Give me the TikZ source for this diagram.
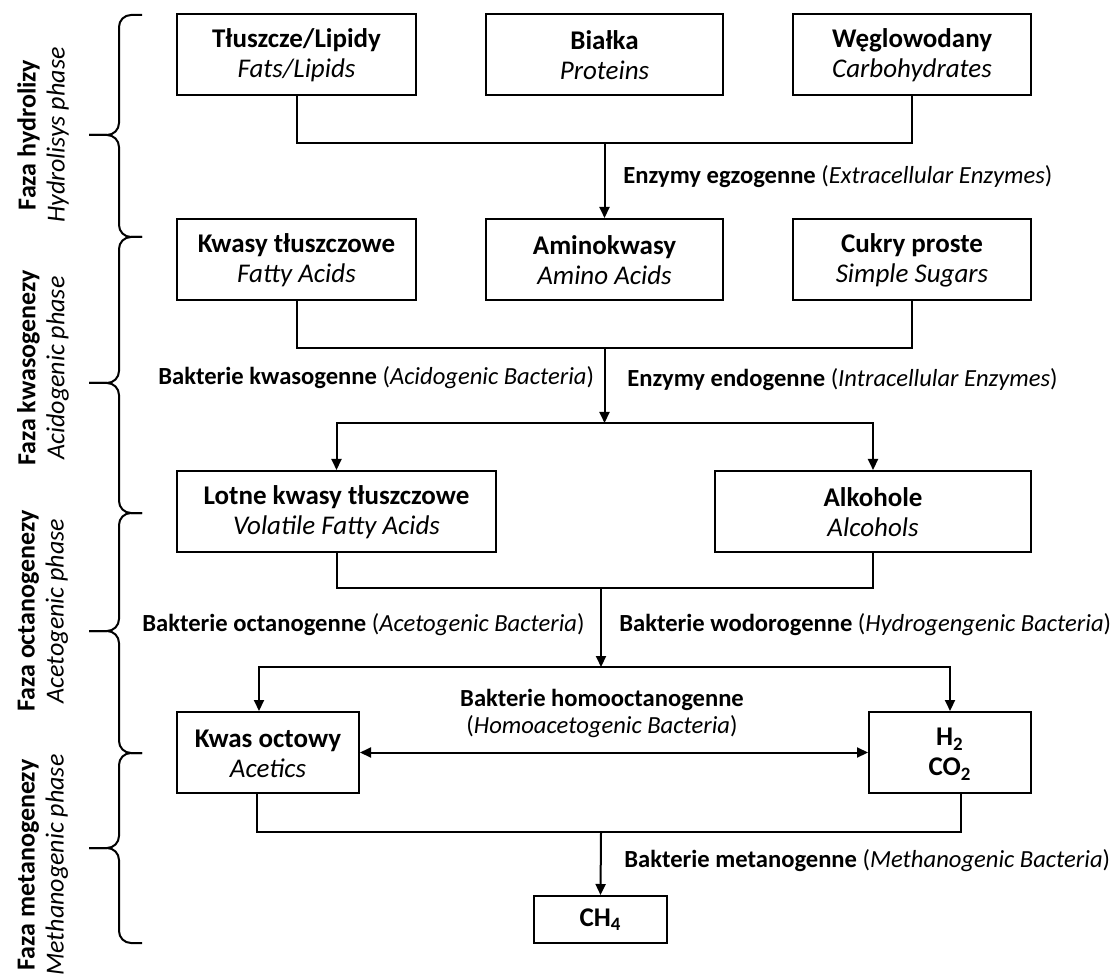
\documentclass[tikz,border=0pt]{standalone}
\usepackage{fontspec}
\setmainfont{Carlito}
\usetikzlibrary{arrows.meta, positioning}

\begin{document}
\begin{tikzpicture}[
    x=0.5pt, y=-0.5pt,
    box/.style={draw, line width=1pt, minimum width=#1*0.5pt, minimum height=40.5pt, align=center, inner sep=1pt, font=\fontsize{13.5}{15}\selectfont},
    lbl/.style={anchor=west, inner sep=0pt, font=\fontsize{12.3}{13.5}\selectfont},
    phase/.style={rotate=90, align=center, inner sep=0pt, font=\fontsize{13}{14.5}\selectfont},
    link/.style={line width=1pt},
    arrow/.style={link, -{Triangle[length=5.5pt, width=5pt]}},
    dblarrow/.style={link, {Triangle[length=5.5pt, width=5pt]}-{Triangle[length=5.5pt, width=5pt]}},
    brc/.style={line width=1pt, rounded corners=6pt}
]
\useasboundingbox (0,0) rectangle (1111,977);

% Substrates
\node[box=239] (fat) at (296.5,54.5) {\textbf{Tłuszcze/Lipidy\strut}\\\textit{Fats/Lipids}};
\node[box=237] (prot) at (604.5,54.5) {\textbf{Białka\strut}\\\textit{Proteins}};
\node[box=238] (carb) at (912,54.5) {\textbf{Węglowodany\strut}\\\textit{Carbohydrates}};

% Monomers
\node[box=239] (fatty) at (296.5,259.5) {\textbf{Kwasy tłuszczowe\strut}\\\textit{Fatty Acids}};
\node[box=237] (amino) at (604.5,259.5) {\textbf{Aminokwasy\strut}\\\textit{Amino Acids}};
\node[box=238] (sugar) at (912,259.5) {\textbf{Cukry proste\strut}\\\textit{Simple Sugars}};

% Intermediates
\node[box=319] (vfa) at (336.5,511.5) {\textbf{Lotne kwasy tłuszczowe\strut}\\\textit{Volatile Fatty Acids}};
\node[box=316] (alc) at (873,511.5) {\textbf{Alkohole\strut}\\\textit{Alcohols}};

\node[box=182] (acet) at (268,752.5) {\textbf{Kwas octowy\strut}\\\textit{Acetics}};
\node[box=162] (gas) at (950,752.5) {\textbf{H\textsubscript{2}\strut}\\\textbf{CO\textsubscript{2}}};
\node[box=133, minimum height=23.5pt] (ch4) at (600.5,919.5) {\textbf{CH\textsubscript{4}}};

% Junctions
\coordinate (j1) at (604.5,143);
\coordinate (j2) at (604.5,348);
\coordinate (j3) at (604.5,423);
\coordinate (j4) at (601,588);
\coordinate (j5) at (601,667);
\coordinate (j6) at (601,832);

\draw[link] (fat.south) |- (j1) -| (carb.south);
\draw[arrow] (j1) -- (amino.north);
\draw[link] (fatty.south) |- (j2) -| (sugar.south);
\draw[arrow] (j2) -- (j3);
\draw[arrow] (j3) -| (vfa.north);
\draw[arrow] (j3) -| (alc.north);
\draw[link] (vfa.south) |- (j4) -| (alc.south);
\draw[arrow] (j4) -- (j5);
\draw[arrow] (j5) -| ([xshift=-4.5pt]acet.north);
\draw[arrow] (j5) -| (gas.north);
\draw[dblarrow] (acet) -- (gas);
\draw[link] ([xshift=-5.5pt]acet.south) |- (j6) -| ([xshift=5.5pt]gas.south);
\draw[arrow] (j6) -- (ch4.north);

% Process labels
\node[lbl] (egz) at (623,177) {\textbf{Enzymy egzogenne} (\textit{Extracellular Enzymes})};
\node[lbl] (kwa) at (158,378) {\textbf{Bakterie kwasogenne} (\textit{Acidogenic Bacteria})};
\node[lbl] (endo) at (627,380) {\textbf{Enzymy endogenne} (\textit{Intracellular Enzymes})};
\node[lbl] (octa) at (142,625) {\textbf{Bakterie octanogenne} (\textit{Acetogenic Bacteria})};
\node[lbl] (wodo) at (619,625) {\textbf{Bakterie wodorogenne} (\textit{Hydrogengenic Bacteria})};
\node[lbl, anchor=center, align=center] (homo) at (602,713) {\textbf{Bakterie homooctanogenne}\\(\textit{Homoacetogenic Bacteria})};
\node[lbl] (meta) at (624,861) {\textbf{Bakterie metanogenne} (\textit{Methanogenic Bacteria})};

% Phase braces
\foreach \ytop/\ymid/\ybot in {15/135/237, 237/383/513, 513/631/753, 753/848/943} {
  \draw[brc] (142,\ytop) -- (119,\ytop) -- (119,\ymid) -- (89,\ymid);
  \draw[brc] (142,\ybot) -- (119,\ybot) -- (119,\ymid) -- (89,\ymid);
}
\node[phase] (ph1) at (43,135) {\textbf{Faza hydrolizy}\\\textit{Hydrolisys phase}};
\node[phase] (ph2) at (43,368) {\textbf{Faza kwasogenezy}\\\textit{Acidogenic phase}};
\node[phase] (ph3) at (43,611) {\textbf{Faza octanogenezy}\\\textit{Acetogenic phase}};
\node[phase] (ph4) at (43,865) {\textbf{Faza metanogenezy}\\\textit{Methanogenic phase}};

\end{tikzpicture}
\end{document}
